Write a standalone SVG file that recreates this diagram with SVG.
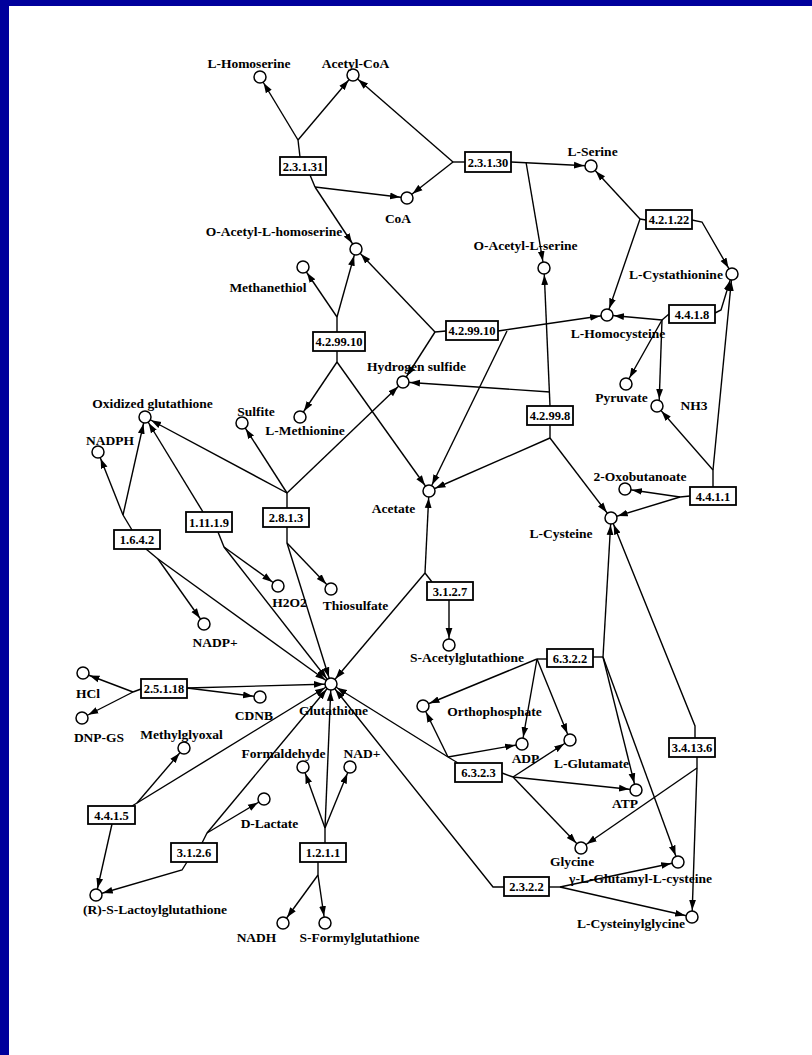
<svg xmlns="http://www.w3.org/2000/svg" width="812" height="1055" viewBox="0 0 812 1055">
<style>
.e{fill:none;stroke:#000;stroke-width:1.4}
.a{marker-end:url(#arr)}
.n circle{fill:#fff;stroke:#000;stroke-width:1.5}
.n text{font-family:"Liberation Serif","Times New Roman",serif;font-weight:bold;font-size:13.5px;text-anchor:middle;fill:#000}
.z rect{fill:#fff;stroke:#000;stroke-width:1.8}
.z text{font-family:"Liberation Serif","Times New Roman",serif;font-weight:bold;font-size:12.5px;text-anchor:middle;fill:#000}
</style>
<defs>
<marker id="arr" viewBox="0 0 17 8" markerWidth="17" markerHeight="8" refX="17" refY="4" orient="auto" markerUnits="userSpaceOnUse"><path d="M0,0.6 L10,4 L0,7.4 z" fill="#000"/></marker>
</defs>
<rect x="0" y="0" width="812" height="1055" fill="#fff"/>
<rect x="0" y="0" width="812" height="6" fill="#00009C"/>
<rect x="0" y="0" width="9" height="1055" fill="#00009C"/>
<g id="connectors" class="e">
<path d="M300,157 L298,140"/><path d="M310,175 L315,187"/><path d="M465,162 L453,162"/>
<path d="M646,220 L640,219"/><path d="M669,314 L662,320"/><path d="M446,331 L435,332"/>
<path d="M337,332 L337,317"/><path d="M337,351 L337,362"/><path d="M550,425 L550,438"/>
<path d="M690,496 L680,497"/><path d="M713,487 L713,470"/><path d="M287,508 L287,493"/>
<path d="M287,527 L287,543"/><path d="M218,532 L224,547"/><path d="M132,530 L123,515"/>
<path d="M146,549 L158,559"/><path d="M432,582 L425,573"/><path d="M547,659 L537,659"/>
<path d="M593,657 L603,657"/><path d="M458,763 L448,757"/><path d="M502,773 L513,777"/>
<path d="M697,757 L697,768"/><path d="M549,887 L560,887"/><path d="M141,689 L133,692"/>
<path d="M132,806 L137,803"/><path d="M202,843 L207,833"/><path d="M325,843 L325,828"/>
<path d="M318,862 L318,875"/>
<g class="a">
<path d="M298,140 L260,77"/><path d="M298,140 L353,75"/>
<path d="M315,187 L407,198"/><path d="M315,187 L356,249"/>
<path d="M453,162 L353,75"/><path d="M453,162 L407,198"/>
<path d="M511,162 L591,166"/><path d="M526,162 L544,268"/>
<path d="M640,219 L591,166"/><path d="M640,219 L607,315"/>
<path d="M692,220 L702,222 L732,274"/>
<path d="M662,320 L607,315"/><path d="M662,320 L659,406"/><path d="M662,320 L626,384"/>
<path d="M715,313 L721,310 L732,274"/>
<path d="M435,332 L356,249"/><path d="M435,332 L403,382"/>
<path d="M498,331 L607,315"/><path d="M507,331 L429,491"/>
<path d="M337,317 L303,267"/><path d="M337,317 L356,249"/>
<path d="M337,362 L300,417"/><path d="M337,362 L429,491"/>
<path d="M550,406 L544,268"/><path d="M550,392 L403,382"/>
<path d="M550,438 L429,491"/><path d="M550,438 L611,518"/>
<path d="M680,497 L625,489"/><path d="M680,497 L611,518"/>
<path d="M713,470 L657,406"/><path d="M713,470 L732,274"/>
<path d="M287,493 L242,423"/><path d="M287,493 L145,417"/><path d="M287,493 L403,382"/>
<path d="M287,543 L331,589"/><path d="M287,543 L331,684"/>
<path d="M203,512 L145,417"/>
<path d="M224,547 L278,586"/><path d="M224,547 L331,684"/>
<path d="M123,515 L98,452"/><path d="M123,515 L145,417"/>
<path d="M158,559 L204,624"/><path d="M158,559 L331,684"/>
<path d="M425,573 L429,491"/><path d="M425,573 L331,684"/>
<path d="M449,600 L449,645"/>
<path d="M537,659 L423,706"/><path d="M537,659 L522,744"/><path d="M537,659 L570,740"/>
<path d="M603,657 L611,518"/><path d="M603,657 L636,790"/><path d="M603,657 L678,862"/>
<path d="M448,757 L423,706"/><path d="M448,757 L522,744"/><path d="M448,757 L331,684"/>
<path d="M513,777 L570,740"/><path d="M513,777 L636,790"/><path d="M513,777 L581,848"/>
<path d="M695,738 L695,726 L611,518"/>
<path d="M697,768 L581,848"/><path d="M697,768 L692,917"/>
<path d="M504,887 L493,887 L331,684"/>
<path d="M560,887 L678,862"/><path d="M560,887 L692,917"/>
<path d="M133,692 L83,673"/><path d="M133,692 L82,718"/>
<path d="M187,688 L331,684"/><path d="M187,688 L260,697"/>
<path d="M137,803 L184,748"/><path d="M137,803 L331,684"/>
<path d="M112,824 L96,895"/>
<path d="M187,862 L182,870 L96,895"/>
<path d="M207,833 L264,799"/><path d="M207,833 L331,684"/>
<path d="M325,828 L303,767"/><path d="M325,828 L350,767"/><path d="M325,828 L331,684"/>
<path d="M318,875 L283,923"/><path d="M318,875 L325,923"/>
</g>
</g>
<g id="enzymes" class="z">
<g id="e2.3.1.31"><rect x="280" y="157" width="46" height="18"/><text x="303" y="170.5">2.3.1.31</text></g>
<g id="e2.3.1.30"><rect x="465" y="152" width="46" height="20"/><text x="488" y="166.5">2.3.1.30</text></g>
<g id="e4.2.1.22"><rect x="646" y="210" width="46" height="19"/><text x="669" y="224">4.2.1.22</text></g>
<g id="e4.4.1.8"><rect x="669" y="305" width="46" height="18"/><text x="692" y="318.5">4.4.1.8</text></g>
<g id="e4.2.99.10b"><rect x="446" y="321" width="52" height="19"/><text x="472" y="335">4.2.99.10</text></g>
<g id="e4.2.99.10a"><rect x="313" y="332" width="52" height="19"/><text x="339" y="346">4.2.99.10</text></g>
<g id="e4.2.99.8"><rect x="527" y="406" width="46" height="19"/><text x="550" y="420">4.2.99.8</text></g>
<g id="e4.4.1.1"><rect x="690" y="487" width="46" height="18"/><text x="713" y="500.5">4.4.1.1</text></g>
<g id="e2.8.1.3"><rect x="263" y="508" width="46" height="19"/><text x="286" y="522">2.8.1.3</text></g>
<g id="e1.11.1.9"><rect x="186" y="512" width="46" height="20"/><text x="209" y="526.5">1.11.1.9</text></g>
<g id="e1.6.4.2"><rect x="114" y="530" width="46" height="19"/><text x="137" y="544">1.6.4.2</text></g>
<g id="e3.1.2.7"><rect x="427" y="582" width="46" height="18"/><text x="450" y="595.5">3.1.2.7</text></g>
<g id="e6.3.2.2"><rect x="547" y="649" width="46" height="18"/><text x="570" y="662.5">6.3.2.2</text></g>
<g id="e6.3.2.3"><rect x="455" y="763" width="47" height="19"/><text x="478.5" y="777">6.3.2.3</text></g>
<g id="e3.4.13.6"><rect x="669" y="738" width="46" height="19"/><text x="692" y="752">3.4.13.6</text></g>
<g id="e2.3.2.2"><rect x="504" y="877" width="45" height="19"/><text x="526.5" y="891">2.3.2.2</text></g>
<g id="e2.5.1.18"><rect x="141" y="679" width="46" height="19"/><text x="164" y="693">2.5.1.18</text></g>
<g id="e4.4.1.5"><rect x="88" y="806" width="47" height="18"/><text x="111.5" y="819.5">4.4.1.5</text></g>
<g id="e3.1.2.6"><rect x="171" y="843" width="46" height="19"/><text x="194" y="857">3.1.2.6</text></g>
<g id="e1.2.1.1"><rect x="300" y="843" width="46" height="19"/><text x="323" y="857">1.2.1.1</text></g>
</g>
<g id="compounds" class="n">
<g id="n-homoserine"><circle cx="260" cy="77" r="6"/><text x="249" y="68">L-Homoserine</text></g>
<g id="n-acetylcoa"><circle cx="353" cy="75" r="6"/><text x="355.5" y="68">Acetyl-CoA</text></g>
<g id="n-coa"><circle cx="407" cy="198" r="6"/><text x="398" y="222.5">CoA</text></g>
<g id="n-oacethomoser"><circle cx="356" cy="249" r="6"/><text x="274" y="235.5">O-Acetyl-L-homoserine</text></g>
<g id="n-methanethiol"><circle cx="303" cy="267" r="6"/><text x="268" y="292">Methanethiol</text></g>
<g id="n-methionine"><circle cx="300" cy="417" r="6"/><text x="305" y="434.5">L-Methionine</text></g>
<g id="n-h2s"><circle cx="403" cy="382" r="6"/><text x="416.5" y="370.5">Hydrogen sulfide</text></g>
<g id="n-gssg"><circle cx="145" cy="417" r="6"/><text x="152.5" y="407.5">Oxidized glutathione</text></g>
<g id="n-nadph"><circle cx="98" cy="452" r="6"/><text x="110" y="444.5">NADPH</text></g>
<g id="n-sulfite"><circle cx="242" cy="423" r="6"/><text x="256" y="415.5">Sulfite</text></g>
<g id="n-nadp"><circle cx="204" cy="624" r="6"/><text x="215" y="646.5">NADP+</text></g>
<g id="n-h2o2"><circle cx="278" cy="586" r="6"/><text x="289.5" y="606.5">H2O2</text></g>
<g id="n-thiosulfate"><circle cx="331" cy="589" r="6"/><text x="355.5" y="609.5">Thiosulfate</text></g>
<g id="n-acetate"><circle cx="429" cy="491" r="6"/><text x="393.5" y="512.5">Acetate</text></g>
<g id="n-oacetser"><circle cx="544" cy="268" r="6"/><text x="525.5" y="249.5">O-Acetyl-L-serine</text></g>
<g id="n-serine"><circle cx="591" cy="166" r="6"/><text x="592.5" y="155.5">L-Serine</text></g>
<g id="n-cystathionine"><circle cx="732" cy="274" r="6"/><text x="676" y="278.5">L-Cystathionine</text></g>
<g id="n-homocysteine"><circle cx="607" cy="315" r="6"/><text x="618" y="337.5">L-Homocysteine</text></g>
<g id="n-pyruvate"><circle cx="626" cy="384" r="6"/><text x="621.5" y="401.5">Pyruvate</text></g>
<g id="n-nh3"><circle cx="657" cy="406" r="6"/><text x="694" y="409.5">NH3</text></g>
<g id="n-oxobut"><circle cx="625" cy="489" r="6"/><text x="640" y="480.5">2-Oxobutanoate</text></g>
<g id="n-cysteine"><circle cx="611" cy="518" r="6"/><text x="561" y="537.5">L-Cysteine</text></g>
<g id="n-sacetylgsh"><circle cx="449" cy="645" r="6"/><text x="467" y="662">S-Acetylglutathione</text></g>
<g id="n-gsh"><circle cx="331" cy="684" r="6"/><text x="333.5" y="714.5">Glutathione</text></g>
<g id="n-hcl"><circle cx="83" cy="673" r="6"/><text x="88" y="697.5">HCl</text></g>
<g id="n-dnpgs"><circle cx="82" cy="718" r="6"/><text x="99" y="741.5">DNP-GS</text></g>
<g id="n-cdnb"><circle cx="260" cy="697" r="6"/><text x="254" y="719.5">CDNB</text></g>
<g id="n-methylglyoxal"><circle cx="184" cy="748" r="6"/><text x="181.5" y="738.5">Methylglyoxal</text></g>
<g id="n-formaldehyde"><circle cx="303" cy="767" r="6"/><text x="283.5" y="757.5">Formaldehyde</text></g>
<g id="n-nad"><circle cx="350" cy="767" r="6"/><text x="362" y="757.5">NAD+</text></g>
<g id="n-dlactate"><circle cx="264" cy="799" r="6"/><text x="269.5" y="827.5">D-Lactate</text></g>
<g id="n-lactoylgsh"><circle cx="96" cy="895" r="6"/><text x="155" y="913.5">(R)-S-Lactoylglutathione</text></g>
<g id="n-nadh"><circle cx="283" cy="923" r="6"/><text x="256.5" y="941.5">NADH</text></g>
<g id="n-sformylgsh"><circle cx="325" cy="923" r="6"/><text x="359.5" y="941.5">S-Formylglutathione</text></g>
<g id="n-orthophosphate"><circle cx="423" cy="706" r="6"/><text x="494.5" y="715.5">Orthophosphate</text></g>
<g id="n-adp"><circle cx="522" cy="744" r="6"/><text x="525.5" y="762.5">ADP</text></g>
<g id="n-glutamate"><circle cx="570" cy="740" r="6"/><text x="591.5" y="767.5">L-Glutamate</text></g>
<g id="n-atp"><circle cx="636" cy="790" r="6"/><text x="625" y="807.5">ATP</text></g>
<g id="n-glycine"><circle cx="581" cy="848" r="6"/><text x="572" y="865.5">Glycine</text></g>
<g id="n-gglucys"><circle cx="678" cy="862" r="6"/><text x="640.5" y="882.5">γ-L-Glutamyl-L-cysteine</text></g>
<g id="n-cysgly"><circle cx="692" cy="917" r="6"/><text x="631" y="927.5">L-Cysteinylglycine</text></g>
</g>
</svg>
